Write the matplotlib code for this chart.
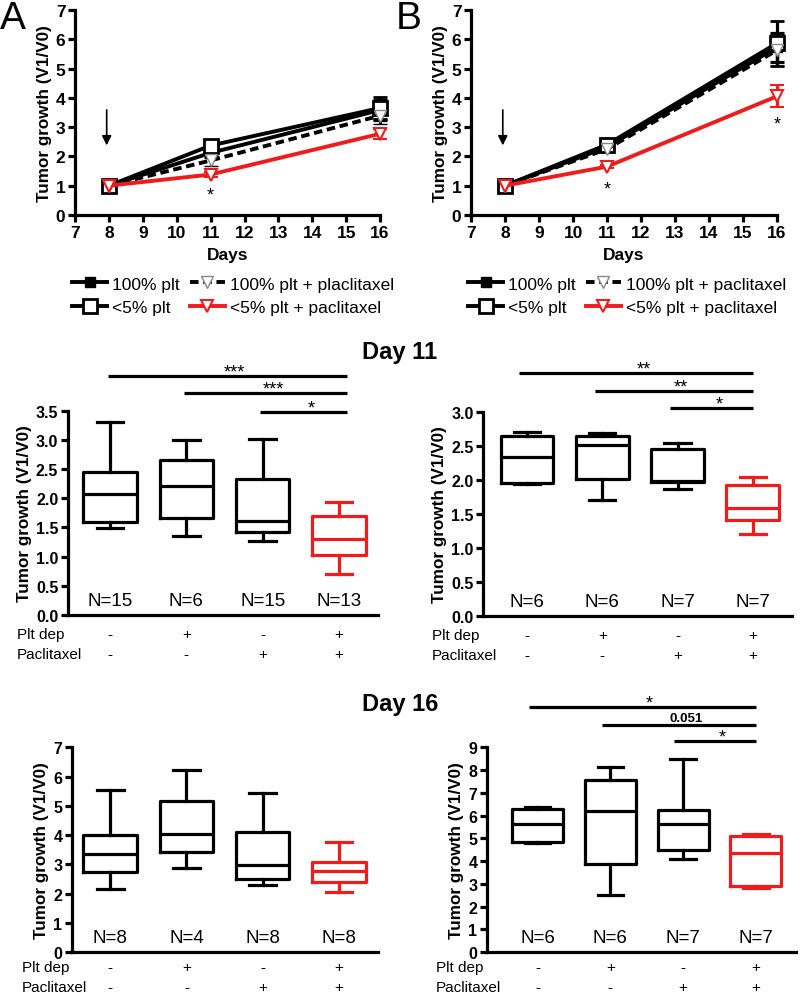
import numpy as np
import matplotlib
matplotlib.use("Agg")
import matplotlib.pyplot as plt
import matplotlib.transforms as mtransforms

plt.rcParams['font.family'] = ['Liberation Sans', 'DejaVu Sans']

RED = '#ee1c1c'

# ---- growth curves ----
days = [8, 11, 16]
A_plt100 = [1.0, 2.12, 3.58]
A_plt100_err = [0, 0.15, 0.35]
A_plt5 = [1.0, 2.37, 3.65]
A_plt5_err = [0, 0.08, 0.38]
A_plt100_pac = [1.0, 1.86, 3.39]
A_plt100_pac_err = [0, 0.20, 0.30]
A_plt5_pac = [1.0, 1.38, 2.77]
A_plt5_pac_err = [0, 0.07, 0.17]

B_plt100 = [1.0, 2.32, 5.72]
B_plt100_err = [0, 0.10, 0.50]
B_plt5 = [1.0, 2.40, 5.86]
B_plt5_err = [0, 0.10, 0.76]
B_plt100_pac = [1.0, 2.25, 5.62]
B_plt100_pac_err = [0, 0.10, 0.55]
B_plt5_pac = [1.0, 1.65, 4.05]
B_plt5_pac_err = [0, 0.06, 0.38]

# ---- box plots ----
d11A_med = [2.08, 2.22, 1.61, 1.30]
d11A_q1 = [1.60, 1.66, 1.42, 1.02]
d11A_q3 = [2.46, 2.66, 2.33, 1.69]
d11A_lo = [1.49, 1.36, 1.26, 0.71]
d11A_hi = [3.31, 3.00, 3.01, 1.94]
d11A_n = [15, 6, 15, 13]
d11A_sig = ['***', '***', '*']

d11B_med = [2.34, 2.51, 1.99, 1.59]
d11B_q1 = [1.96, 2.02, 1.97, 1.41]
d11B_q3 = [2.65, 2.65, 2.46, 1.93]
d11B_lo = [1.94, 1.71, 1.86, 1.21]
d11B_hi = [2.70, 2.69, 2.54, 2.05]
d11B_n = [6, 6, 7, 7]
d11B_sig = ['**', '**', '*']

d16A_med = [3.36, 4.05, 2.99, 2.79]
d16A_q1 = [2.73, 3.43, 2.50, 2.41]
d16A_q3 = [4.01, 5.18, 4.10, 3.07]
d16A_lo = [2.15, 2.86, 2.28, 2.06]
d16A_hi = [5.55, 6.23, 5.45, 3.78]
d16A_n = [8, 4, 8, 8]

d16B_med = [5.61, 6.18, 5.63, 4.36]
d16B_q1 = [4.84, 3.88, 4.48, 2.90]
d16B_q3 = [6.29, 7.54, 6.23, 5.09]
d16B_lo = [4.80, 2.50, 4.11, 2.82]
d16B_hi = [6.37, 8.14, 8.50, 5.20]
d16B_n = [6, 6, 7, 7]
d16B_sig = ['*', '0.051', '*']

plt_dep = ['-', '+', '-', '+']
paclitaxel = ['-', '-', '+', '+']
box_colors = ['black', 'black', 'black', RED]

LW = 2.3

fig = plt.figure(figsize=(8, 9.95), dpi=100)


def style_axes(ax, size):
    for s in ['top', 'right']:
        ax.spines[s].set_visible(False)
    for s in ['left', 'bottom']:
        ax.spines[s].set_linewidth(LW)
    ax.tick_params(width=LW, length=5, labelsize=size, pad=2)
    for lab in ax.get_xticklabels() + ax.get_yticklabels():
        lab.set_fontweight('bold')


def growth_panel(rect, series, errs, pac_label, stars, letter):
    ax = fig.add_axes(rect)
    specs = [
        dict(color='black', ls='-', marker='s', mfc='black', mec='black', ms=7),
        dict(color='black', ls='-', marker='s', mfc='white', mec='black', ms=10, mew=2),
        dict(color='black', ls=(0, (2.2, 1.2)), marker='v', mfc='white', mec='#888888', ms=9, mew=1),
        dict(color=RED, ls='-', marker='v', mfc='white', mec=RED, ms=9, mew=1.5),
    ]
    labels = ['100% plt', '<5% plt', '100% plt + ' + pac_label, '<5% plt + paclitaxel']
    handles = []
    for y, e, sp in zip(series, errs, specs):
        eb = ax.errorbar(days, y, yerr=e, capsize=5, elinewidth=LW, capthick=LW,
                         lw=2.8, **sp)
        eb[0].set_clip_on(False)
        for c in eb[1]:
            c.set_clip_on(False)
        for b in eb[2]:
            b.set_clip_on(False)
        handles.append(eb[0])
    ax.set_xlim(7, 16)
    ax.set_ylim(0, 7)
    ax.set_xticks(range(7, 17))
    ax.set_yticks(range(0, 8))
    ax.set_xlabel('Days', fontsize=12.5, fontweight='bold', labelpad=5)
    ax.set_ylabel('Tumor growth (V1/V0)', fontsize=12.3, fontweight='bold', labelpad=3)
    style_axes(ax, 12.5)
    ax.annotate('', xy=(7.93, 2.28), xytext=(7.93, 3.68),
                arrowprops=dict(arrowstyle='-|>', color='black', lw=1.2, mutation_scale=14))
    for (sx, sy) in stars:
        ax.text(sx, sy, '*', ha='center', va='center', fontsize=13)
    ax.legend(handles, labels, ncol=2, loc='upper left', bbox_to_anchor=(-0.01, -0.3),
              frameon=False, fontsize=12.5, handlelength=2.0, handletextpad=0.3,
              columnspacing=0.6, labelspacing=0.5, borderpad=0, borderaxespad=0)
    fig.text(rect[0] - 0.094, 0.999, letter, fontsize=28, va='top', ha='left')
    return ax


growth_panel([0.094, 0.783, 0.381, 0.206],
             [A_plt100, A_plt5, A_plt100_pac, A_plt5_pac],
             [A_plt100_err, A_plt5_err, A_plt100_pac_err, A_plt5_pac_err],
             'placlitaxel', [(11, 0.68)], 'A')
growth_panel([0.589, 0.783, 0.382, 0.206],
             [B_plt100, B_plt5, B_plt100_pac, B_plt5_pac],
             [B_plt100_err, B_plt5_err, B_plt100_pac_err, B_plt5_pac_err],
             'paclitaxel', [(11, 0.88), (16, 3.1)], 'B')


def box_panel(rect, xlim, ylim, yticks, fmt, med, q1, q3, lo, hi, n, row_y,
              sig=None, sig_y=None, sig_off=0.0, sig_end=4.0):
    ax = fig.add_axes(rect)
    pos = [1, 2, 3, 4]
    for i in range(4):
        c = box_colors[i]
        st = dict(med=med[i], q1=q1[i], q3=q3[i], whislo=lo[i], whishi=hi[i], fliers=[])
        ax.bxp([st], positions=[pos[i]], widths=0.7, capwidths=0.35, showfliers=False,
               boxprops=dict(color=c, lw=LW), medianprops=dict(color=c, lw=LW),
               whiskerprops=dict(color=c, lw=LW), capprops=dict(color=c, lw=LW))
    ax.set_xlim(*xlim)
    ax.set_ylim(*ylim)
    ax.set_yticks(yticks)
    ax.set_yticklabels([fmt.format(t) for t in yticks])
    ax.set_xticks([])
    ax.set_ylabel('Tumor growth (V1/V0)', fontsize=12.3, fontweight='bold', labelpad=3)
    style_axes(ax, 11.5)
    trans = mtransforms.blended_transform_factory(ax.transData, ax.transAxes)
    for i in range(4):
        ax.text(pos[i], 0.07, 'N=%d' % n[i], transform=trans, ha='center', va='center', fontsize=13.5)
        ax.text(pos[i], row_y[0], plt_dep[i], transform=trans, ha='center', va='center', fontsize=11)
        ax.text(pos[i], row_y[1], paclitaxel[i], transform=trans, ha='center', va='center', fontsize=11)
    ax.text(-0.165, row_y[0], 'Plt dep', transform=ax.transAxes, ha='left', va='center', fontsize=11)
    ax.text(-0.165, row_y[1], 'Paclitaxel', transform=ax.transAxes, ha='left', va='center', fontsize=11)
    if sig is not None:
        for i in range(3):
            x0 = pos[i] + sig_off
            ax.plot([x0, sig_end], [sig_y[i], sig_y[i]], color='black', lw=LW, clip_on=False,
                    solid_capstyle='butt')
            if sig[i][0].isdigit():
                ax.annotate(sig[i], xy=((x0 + sig_end) / 2 + 0.1, sig_y[i]), xytext=(0, 1),
                            textcoords='offset points', ha='center', va='bottom',
                            fontsize=9.5, fontweight='bold', annotation_clip=False)
            else:
                ax.annotate(sig[i], xy=((x0 + sig_end) / 2 + 0.1, sig_y[i]), xytext=(0, -3),
                            textcoords='offset points', ha='center', va='bottom',
                            fontsize=13, annotation_clip=False)
    return ax


box_panel([0.085, 0.381, 0.3875, 0.205], (0.45, 4.51), (0, 3.5), np.arange(0, 3.51, 0.5), '{:.1f}',
          d11A_med, d11A_q1, d11A_q3, d11A_lo, d11A_hi, d11A_n, (-0.095, -0.19),
          d11A_sig, [4.10, 3.81, 3.48], sig_off=-0.03, sig_end=4.1)
box_panel([0.604, 0.380, 0.386, 0.205], (0.42, 4.52), (0, 3.0), np.arange(0, 3.01, 0.5), '{:.1f}',
          d11B_med, d11B_q1, d11B_q3, d11B_lo, d11B_hi, d11B_n, (-0.095, -0.19),
          d11B_sig, [3.57, 3.31, 3.06], sig_off=-0.1, sig_end=4.0)
box_panel([0.090, 0.042, 0.3825, 0.206], (0.5, 4.51), (0, 7), np.arange(0, 8), '{:.0f}',
          d16A_med, d16A_q1, d16A_q3, d16A_lo, d16A_hi, d16A_n, (-0.07, -0.17))
box_panel([0.609, 0.042, 0.386, 0.206], (0.31, 4.55), (0, 9), np.arange(0, 10), '{:.0f}',
          d16B_med, d16B_q1, d16B_q3, d16B_lo, d16B_hi, d16B_n, (-0.07, -0.17),
          d16B_sig, [10.76, 9.96, 9.26], sig_off=-0.12, sig_end=4.0)

fig.text(0.5, 1 - 352 / 995, 'Day 11', ha='center', va='center', fontsize=17, fontweight='bold')
fig.text(0.5, 1 - 705 / 995, 'Day 16', ha='center', va='center', fontsize=17, fontweight='bold')

fig.savefig('out.png', dpi=100)
